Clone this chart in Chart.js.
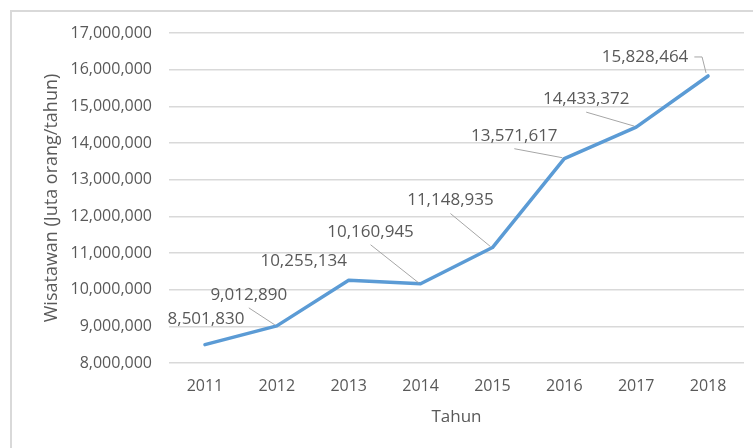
<!DOCTYPE html>
<html>
<head>
<meta charset="utf-8">
<script src="https://cdn.jsdelivr.net/npm/chart.js@4.4.1/dist/chart.umd.min.js"></script>
<style>
    html, body { margin: 0; padding: 0; background: #fff; }
    #wrap { position: relative; width: 753px; height: 448px; overflow: hidden; }
    #frame { position: absolute; left: 10px; top: 10px; width: 800px; height: 500px; border: 2px solid #d9d9d9; }
    #touristChart { position: absolute; left: 0; top: 0; }
</style>
</head>
<body>
<div id="wrap">
    <div id="frame"></div>
    <canvas id="touristChart" width="753" height="448"></canvas>
</div>
<script>
// --- Data ---
const years = ['2011', '2012', '2013', '2014', '2015', '2016', '2017', '2018'];
const visitors = [8501830, 9012890, 10255134, 10160945, 11148935, 13571617, 14433372, 15828464];
const yTicks = [8000000, 9000000, 10000000, 11000000, 12000000, 13000000, 14000000, 15000000, 16000000, 17000000];

// label placement (offset of text centre from point, leader style)
const labelPlacement = [
    { dx: 1, dy: -25, leader: 'none' },
    { dx: -28, dy: -31, leader: 'below' },
    { dx: -45, dy: -19, leader: 'none' },
    { dx: -50, dy: -52, leader: 'below' },
    { dx: -42, dy: -47, leader: 'below' },
    { dx: -50, dy: -23, leader: 'below' },
    { dx: -50, dy: -28, leader: 'below' },
    { dx: -63, dy: -19, leader: 'right' }
];

const textColor = '#595959';
const fontFamily = "'Open Sans', sans-serif";

// --- Data label plugin with leader lines ---
const dataLabels = {
    id: 'dataLabels',
    afterDatasetsDraw(chart) {
        const c = chart.ctx;
        const meta = chart.getDatasetMeta(0);
        c.save();
        c.font = '17px ' + fontFamily;
        c.textAlign = 'center';
        c.textBaseline = 'middle';
        meta.data.forEach((pt, i) => {
            const p = labelPlacement[i];
            const tx = pt.x + p.dx;
            const ty = pt.y + p.dy;
            const text = visitors[i].toLocaleString('en-US');
            const w = c.measureText(text).width;

            c.strokeStyle = '#a6a6a6';
            c.lineWidth = 1;
            if (p.leader === 'below') {
                c.beginPath();
                c.moveTo(tx, ty + 13);
                c.lineTo(pt.x - 2, pt.y - 1);
                c.stroke();
            } else if (p.leader === 'right') {
                c.beginPath();
                c.moveTo(tx + w / 2 + 6, ty);
                c.lineTo(pt.x - 6, ty);
                c.lineTo(pt.x - 2, pt.y - 3);
                c.stroke();
            }
            c.fillStyle = textColor;
            c.fillText(text, tx, ty);
        });
        c.restore();
    }
};

const ctx = document.getElementById('touristChart').getContext('2d');
const touristChart = new Chart(ctx, {
    type: 'line',
    data: {
        labels: years,
        datasets: [{
            label: 'Wisatawan',
            data: visitors,
            borderColor: '#5b9bd5',
            borderWidth: 3.5,
            borderJoinStyle: 'round',
            borderCapStyle: 'round',
            pointRadius: 0,
            tension: 0,
            fill: false
        }]
    },
    options: {
        responsive: false,
        devicePixelRatio: 1,
        animation: false,
        layout: {
            padding: { top: 33, right: 9, left: 0, bottom: 0 }
        },
        plugins: {
            legend: { display: false },
            tooltip: { enabled: false }
        },
        scales: {
            x: {
                offset: true,
                grid: { display: false, drawTicks: false },
                border: { display: false },
                ticks: {
                    color: textColor,
                    font: { family: fontFamily, size: 16 },
                    padding: 14,
                    maxRotation: 0
                },
                title: {
                    display: true,
                    text: 'Tahun',
                    color: textColor,
                    font: { family: fontFamily, size: 17 },
                    padding: { top: 0, bottom: 21 }
                },
                afterFit(scale) { scale.height = 85; }
            },
            y: {
                min: 8000000,
                max: 17000000,
                afterBuildTicks(scale) {
                    scale.ticks = yTicks.map(v => ({ value: v }));
                },
                grid: { color: '#d9d9d9', lineWidth: 1.5, drawTicks: false },
                border: { display: false },
                ticks: {
                    color: textColor,
                    font: { family: fontFamily, size: 16 },
                    padding: 17,
                    callback: (v) => Number(v).toLocaleString('en-US')
                },
                title: {
                    display: true,
                    text: 'Wisatawan (Juta orang/tahun)',
                    color: textColor,
                    font: { family: fontFamily, size: 18 },
                    padding: { top: 41, bottom: 0 }
                },
                afterFit(scale) { scale.width = 169; }
            }
        }
    },
    plugins: [dataLabels]
});
</script>
</body>
</html>
